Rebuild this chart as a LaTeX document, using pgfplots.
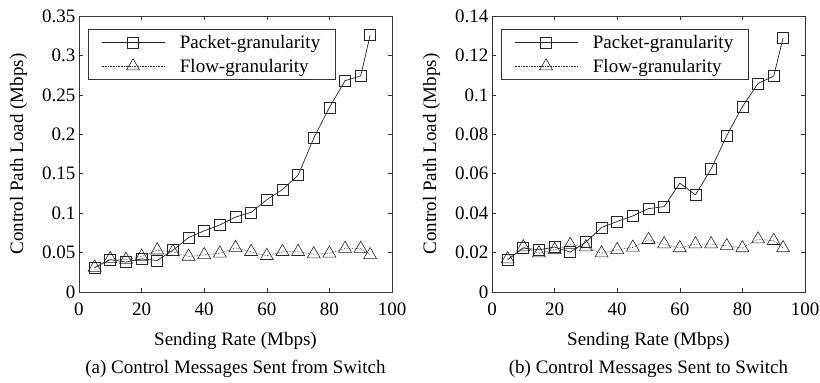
\documentclass[border=0pt]{standalone}
\usepackage{pgfplots}
\pgfplotsset{compat=1.18}
\usepackage{fontspec}
\setmainfont{Liberation Serif}
\pgfplotstableread{
x pkt flow
5 0.031 0.031
10 0.041 0.042
15 0.038 0.041
20 0.042 0.045
25 0.040 0.053
30 0.053 0.051
35 0.069 0.045
40 0.0776 0.047
45 0.085 0.049
50 0.095 0.056
55 0.101 0.051
60 0.117 0.046
65 0.130 0.051
70 0.148 0.051
75 0.195 0.048
80 0.234 0.049
85 0.268 0.055
90 0.274 0.055
93 0.3255 0.047
}\tableA
\pgfplotstableread{
x pkt flow
5 0.0164 0.0167
10 0.0223 0.0228
15 0.0214 0.0197
20 0.0228 0.0214
25 0.0202 0.0240
30 0.0253 0.0228
35 0.0327 0.0197
40 0.0358 0.0214
45 0.0386 0.0226
50 0.0423 0.0265
55 0.0433 0.0243
60 0.0552 0.0223
65 0.0493 0.0243
70 0.0624 0.0243
75 0.0793 0.0234
80 0.0940 0.0223
85 0.1058 0.0268
90 0.1095 0.0260
93 0.1289 0.0223
}\tableB
\pgfplotsset{
  myaxis/.style={
    scale only axis, width=313pt, height=276pt,
    xmin=0, xmax=100, ymin=0,
    xtick={0,20,...,100},
    tick align=inside, major tick length=4pt,
    axis line style={black!80, line width=0.6pt},
    every tick/.style={black!80, line width=0.5pt},
    font=\fontsize{19}{23}\selectfont,
    /pgf/number format/assume math mode=true,
    yticklabel style={/pgf/number format/fixed, /pgf/number format/precision=2},
    xticklabel style={yshift=-7pt},
    scaled y ticks=false,
    xlabel={Sending Rate (Mbps)},
    ylabel={Control Path Load (Mbps)},
    xlabel style={at={(axis description cs:0.5,-0.1775)}, anchor=center},
    ylabel style={at={(axis description cs:-0.193,0.5)}, anchor=center},
    title style={at={(axis description cs:0.5,-0.302)}, anchor=center},
    legend cell align=left,
    legend image code/.code={\draw[mark repeat=2,mark phase=2,##1] plot coordinates {(0pt,0pt) (31.5pt,0pt) (63pt,0pt)};},
    legend style={at={(axis description cs:0.0288,0.953)}, anchor=north west,
      draw=black!80, fill=white, inner xsep=13pt, inner ysep=4pt, row sep=5pt, column sep=13pt,
      font=\fontsize{19}{23}\selectfont},
  },
  pkt/.style={black!85, line width=0.7pt, mark=square, mark size=5.5pt, mark options={solid, fill=white}},
  flw/.style={black!85, line width=0.6pt, densely dotted, mark=triangle, mark size=7.5pt, mark options={solid, fill=white}},
}
\begin{document}
\begin{tikzpicture}
\useasboundingbox (-79pt,-91pt) rectangle (741pt,292pt);
\begin{axis}[myaxis, at={(0pt,0pt)}, anchor=south west, ymax=0.35,
  ytick={0,0.05,...,0.35},
  title={(a) Control Messages Sent from Switch}]
\addplot[flw, forget plot] table[x=x, y=flow] {\tableA};
\addplot[pkt] table[x=x, y=pkt] {\tableA};
\addlegendentry{Packet-granularity}
\addlegendimage{flw}
\addlegendentry{Flow-granularity}
\end{axis}
\begin{axis}[myaxis, at={(413pt,0pt)}, anchor=south west, ymax=0.14,
  ytick={0,0.02,...,0.14},
  title={(b) Control Messages Sent to Switch}]
\addplot[flw, forget plot] table[x=x, y=flow] {\tableB};
\addplot[pkt] table[x=x, y=pkt] {\tableB};
\addlegendentry{Packet-granularity}
\addlegendimage{flw}
\addlegendentry{Flow-granularity}
\end{axis}
\end{tikzpicture}
\end{document}
